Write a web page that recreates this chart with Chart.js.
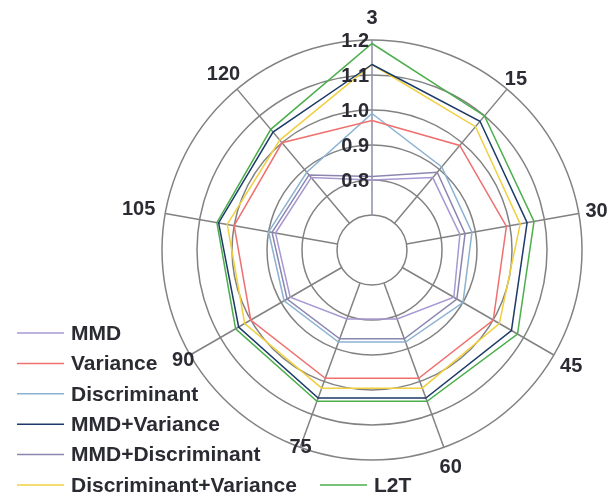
<!DOCTYPE html>
<html>
<head>
<meta charset="utf-8">
<script src="https://cdn.jsdelivr.net/npm/chart.js@4.4.1/dist/chart.umd.min.js"></script>
<style>
    html, body { margin: 0; padding: 0; background: #fff; }
    #contenedor { width: 610px; height: 496px; }
</style>
</head>
<body>
<div id="contenedor"><canvas id="grafico"></canvas></div>
<script>
// Ejes del radar y etiquetas de la escala
const categorias = ['3', '15', '30', '45', '60', '75', '90', '105', '120'];
const valoresTicks = [0.8, 0.9, 1.0, 1.1, 1.2];
const etiquetasTicks = ['0.8', '0.9', '1.0', '1.1', '1.2'];

// Series
const mmd = [0.80, 0.87, 0.855, 0.87, 0.81, 0.81, 0.87, 0.88, 0.87];
const variance = [0.97, 0.99, 0.99, 1.00, 0.99, 0.99, 1.00, 1.00, 1.00];
const discriminant = [0.99, 0.91, 0.89, 0.90, 0.88, 0.88, 0.89, 0.90, 0.89];
const mmdVariance = [1.13, 1.08, 1.05, 1.06, 1.05, 1.05, 1.04, 1.045, 1.04];
const mmdDiscriminant = [0.81, 0.89, 0.87, 0.88, 0.87, 0.87, 0.88, 0.89, 0.88];
const discVariance = [1.13, 1.06, 1.03, 1.02, 1.02, 1.02, 1.02, 1.02, 1.01];
const l2t = [1.19, 1.10, 1.07, 1.08, 1.06, 1.06, 1.05, 1.05, 1.05];

const series = [
    { label: 'MMD', data: mmd, color: '#a898d4' },
    { label: 'Variance', data: variance, color: '#f07070' },
    { label: 'Discriminant', data: discriminant, color: '#8cb2d2' },
    { label: 'MMD+Variance', data: mmdVariance, color: '#1d3a68' },
    { label: 'MMD+Discriminant', data: mmdDiscriminant, color: '#8a86b0' },
    { label: 'Discriminant+Variance', data: discVariance, color: '#f0d040' },
    { label: 'L2T', data: l2t, color: '#4cae4c' }
];

const colorRejilla = '#828282';
const colorTexto = '#2b2b33';
const fuente = 'bold 20px "Liberation Sans", Arial, sans-serif';
const fuenteLeyenda = 'bold 21px "Liberation Sans", Arial, sans-serif';
const valorInterior = 0.7;
// distancia extra (px) de cada etiqueta de eje fuera del circulo exterior
const separacionEtiquetas = [23, 14, 18, 20, 20, -1, 8, 27, 21];

// Radios: desde el circulo interior hasta el exterior
const pluginRadios = {
    id: 'radios',
    beforeDatasetsDraw(chart) {
        const escala = chart.scales.r;
        const ctx = chart.ctx;
        ctx.save();
        ctx.lineWidth = 1.5;
        categorias.forEach((c, i) => {
            const a = escala.getPointPositionForValue(i, valorInterior);
            const b = escala.getPointPositionForValue(i, escala.max);
            ctx.strokeStyle = i === 0 ? '#8a8fa6' : colorRejilla;
            ctx.beginPath();
            ctx.moveTo(a.x, a.y);
            ctx.lineTo(b.x, b.y);
            ctx.stroke();
        });
        ctx.restore();
    }
};

// Etiquetas de escala, de los ejes y leyenda
const pluginTextos = {
    id: 'textos',
    afterDraw(chart) {
        const escala = chart.scales.r;
        const ctx = chart.ctx;
        ctx.save();
        ctx.fillStyle = colorTexto;
        ctx.font = fuente;

        // ticks a la izquierda del eje vertical
        ctx.textAlign = 'right';
        ctx.textBaseline = 'middle';
        valoresTicks.forEach((v, i) => {
            const p = escala.getPointPositionForValue(0, v);
            ctx.fillText(etiquetasTicks[i], p.x - 3, p.y + 1);
        });

        // etiquetas de los ejes
        ctx.textAlign = 'center';
        categorias.forEach((c, i) => {
            const p = escala.getPointPosition(i, escala.drawingArea + separacionEtiquetas[i]);
            ctx.fillText(c, p.x, p.y + 1);
        });

        // leyenda
        ctx.font = fuenteLeyenda;
        ctx.textAlign = 'left';
        ctx.lineWidth = 1.5;
        chart.data.datasets.forEach((ds, i) => {
            let x = 17;
            let y = 333 + i * 30.4;
            if (i === 6) {
                x = 320;
                y = 333 + 5 * 30.4;
            }
            ctx.strokeStyle = ds.borderColor;
            ctx.beginPath();
            ctx.moveTo(x, y);
            ctx.lineTo(x + 47, y);
            ctx.stroke();
            ctx.fillText(ds.label, x + 54, y + 1);
        });
        ctx.restore();
    }
};

const ctx = document.getElementById('grafico').getContext('2d');
new Chart(ctx, {
    type: 'radar',
    data: {
        labels: categorias,
        datasets: series.map(s => ({
            label: s.label,
            data: s.data,
            borderColor: s.color,
            backgroundColor: s.color,
            borderWidth: 1.5,
            fill: false,
            pointRadius: 0,
            tension: 0
        }))
    },
    options: {
        responsive: true,
        maintainAspectRatio: false,
        animation: false,
        layout: {
            padding: { left: 162, right: 28, top: 40, bottom: 36 }
        },
        plugins: {
            legend: { display: false },
            tooltip: { enabled: false }
        },
        scales: {
            r: {
                min: 0.6,
                max: 1.2,
                startAngle: 0,
                ticks: { display: false, stepSize: 0.1 },
                grid: { circular: true, color: colorRejilla, lineWidth: 1.5 },
                angleLines: { display: false },
                pointLabels: { display: false }
            }
        }
    },
    plugins: [pluginRadios, pluginTextos]
});
</script>
</body>
</html>
